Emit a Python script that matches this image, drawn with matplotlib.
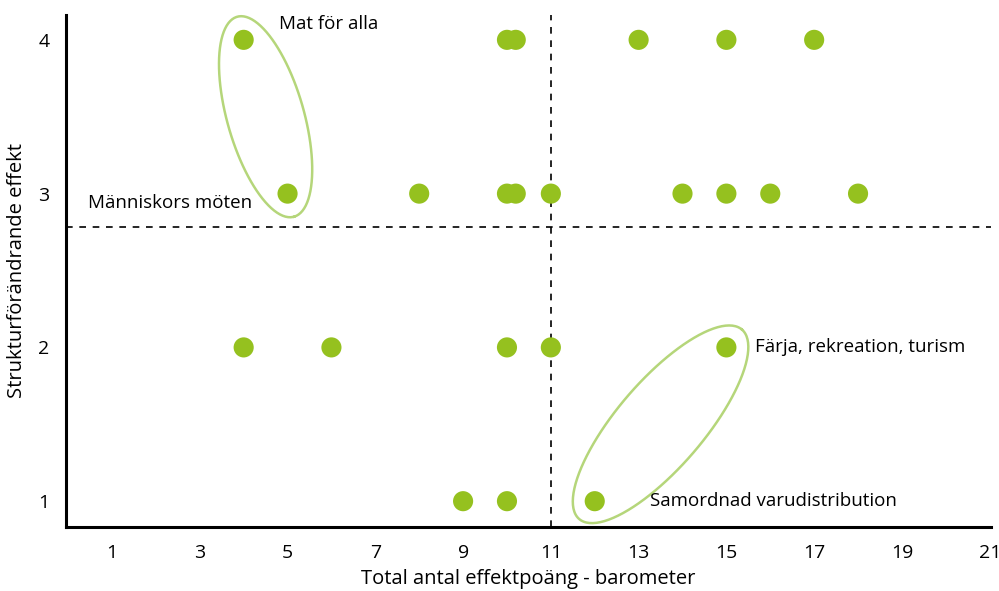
import matplotlib.pyplot as plt
import numpy as np

# point data: (effektpoäng, strukturförändrande effekt)
x_vals = [4, 10, 10.2, 13, 15, 17,
          5, 8, 10, 10.2, 11, 14, 15, 16, 18,
          4, 6, 10, 11, 15,
          9, 10, 12]
y_vals = [4, 4, 4, 4, 4, 4,
          3, 3, 3, 3, 3, 3, 3, 3, 3,
          2, 2, 2, 2, 2,
          1, 1, 1]

x_ticks = [1, 3, 5, 7, 9, 11, 13, 15, 17, 19, 21]
y_ticks = [1, 2, 3, 4]

labels = ["Mat för alla", "Människors möten", "Färja, rekreation, turism", "Samordnad varudistribution"]
label_x = [4.8, 0.45, 15.65, 13.25]
label_y = [4.1, 2.94, 2.0, 1.0]

x_split = 11
y_split = 2.785

plt.rcParams['font.family'] = ['Open Sans', 'DejaVu Sans']

fig = plt.figure(figsize=(9.99, 5.91), dpi=100)
ax = fig.add_axes([0.066, 0.108, 0.926, 0.867])

ax.scatter(x_vals, y_vals, s=210, color='#95c11f', edgecolors='none', zorder=3)

ax.axvline(x_split, color='black', lw=1.2, ls=(0, (4, 4)), zorder=1)
ax.axhline(y_split, color='black', lw=1.2, ls=(0, (4, 4)), zorder=1)

# ellipses around the highlighted pairs (drawn as parametric curves in data space)
t = np.linspace(0, 2 * np.pi, 200)
ell = [((4.5, 3.5), (0.65, -0.65), (0.84, 0.07)),
       ((13.5, 1.5), (1.85, 0.617), (0.76, -0.18))]
for c, u, v in ell:
    ex = c[0] + u[0] * np.cos(t) + v[0] * np.sin(t)
    ey = c[1] + u[1] * np.cos(t) + v[1] * np.sin(t)
    ax.plot(ex, ey, color='#b5d67a', lw=1.8, zorder=2, clip_on=False)

for txt, lx, ly in zip(labels, label_x, label_y):
    ax.text(lx, ly, txt, fontsize=13.5, va='center', ha='left')

ax.set_xlim(-0.05, 21.03)
ax.set_ylim(0.831, 4.163)
ax.set_xticks(x_ticks)
ax.set_yticks(y_ticks)
ax.tick_params(length=0, labelsize=14)
ax.tick_params(axis='x', pad=12)
ax.tick_params(axis='y', pad=12)

for s in ['top', 'right']:
    ax.spines[s].set_visible(False)
for s in ['left', 'bottom']:
    ax.spines[s].set_linewidth(2.2)

ax.set_xlabel("Total antal effektpoäng - barometer", fontsize=14.5, labelpad=5)
ax.set_ylabel("Strukturförändrande effekt", fontsize=14.5, labelpad=8)

fig.savefig('out.png', dpi=100)
